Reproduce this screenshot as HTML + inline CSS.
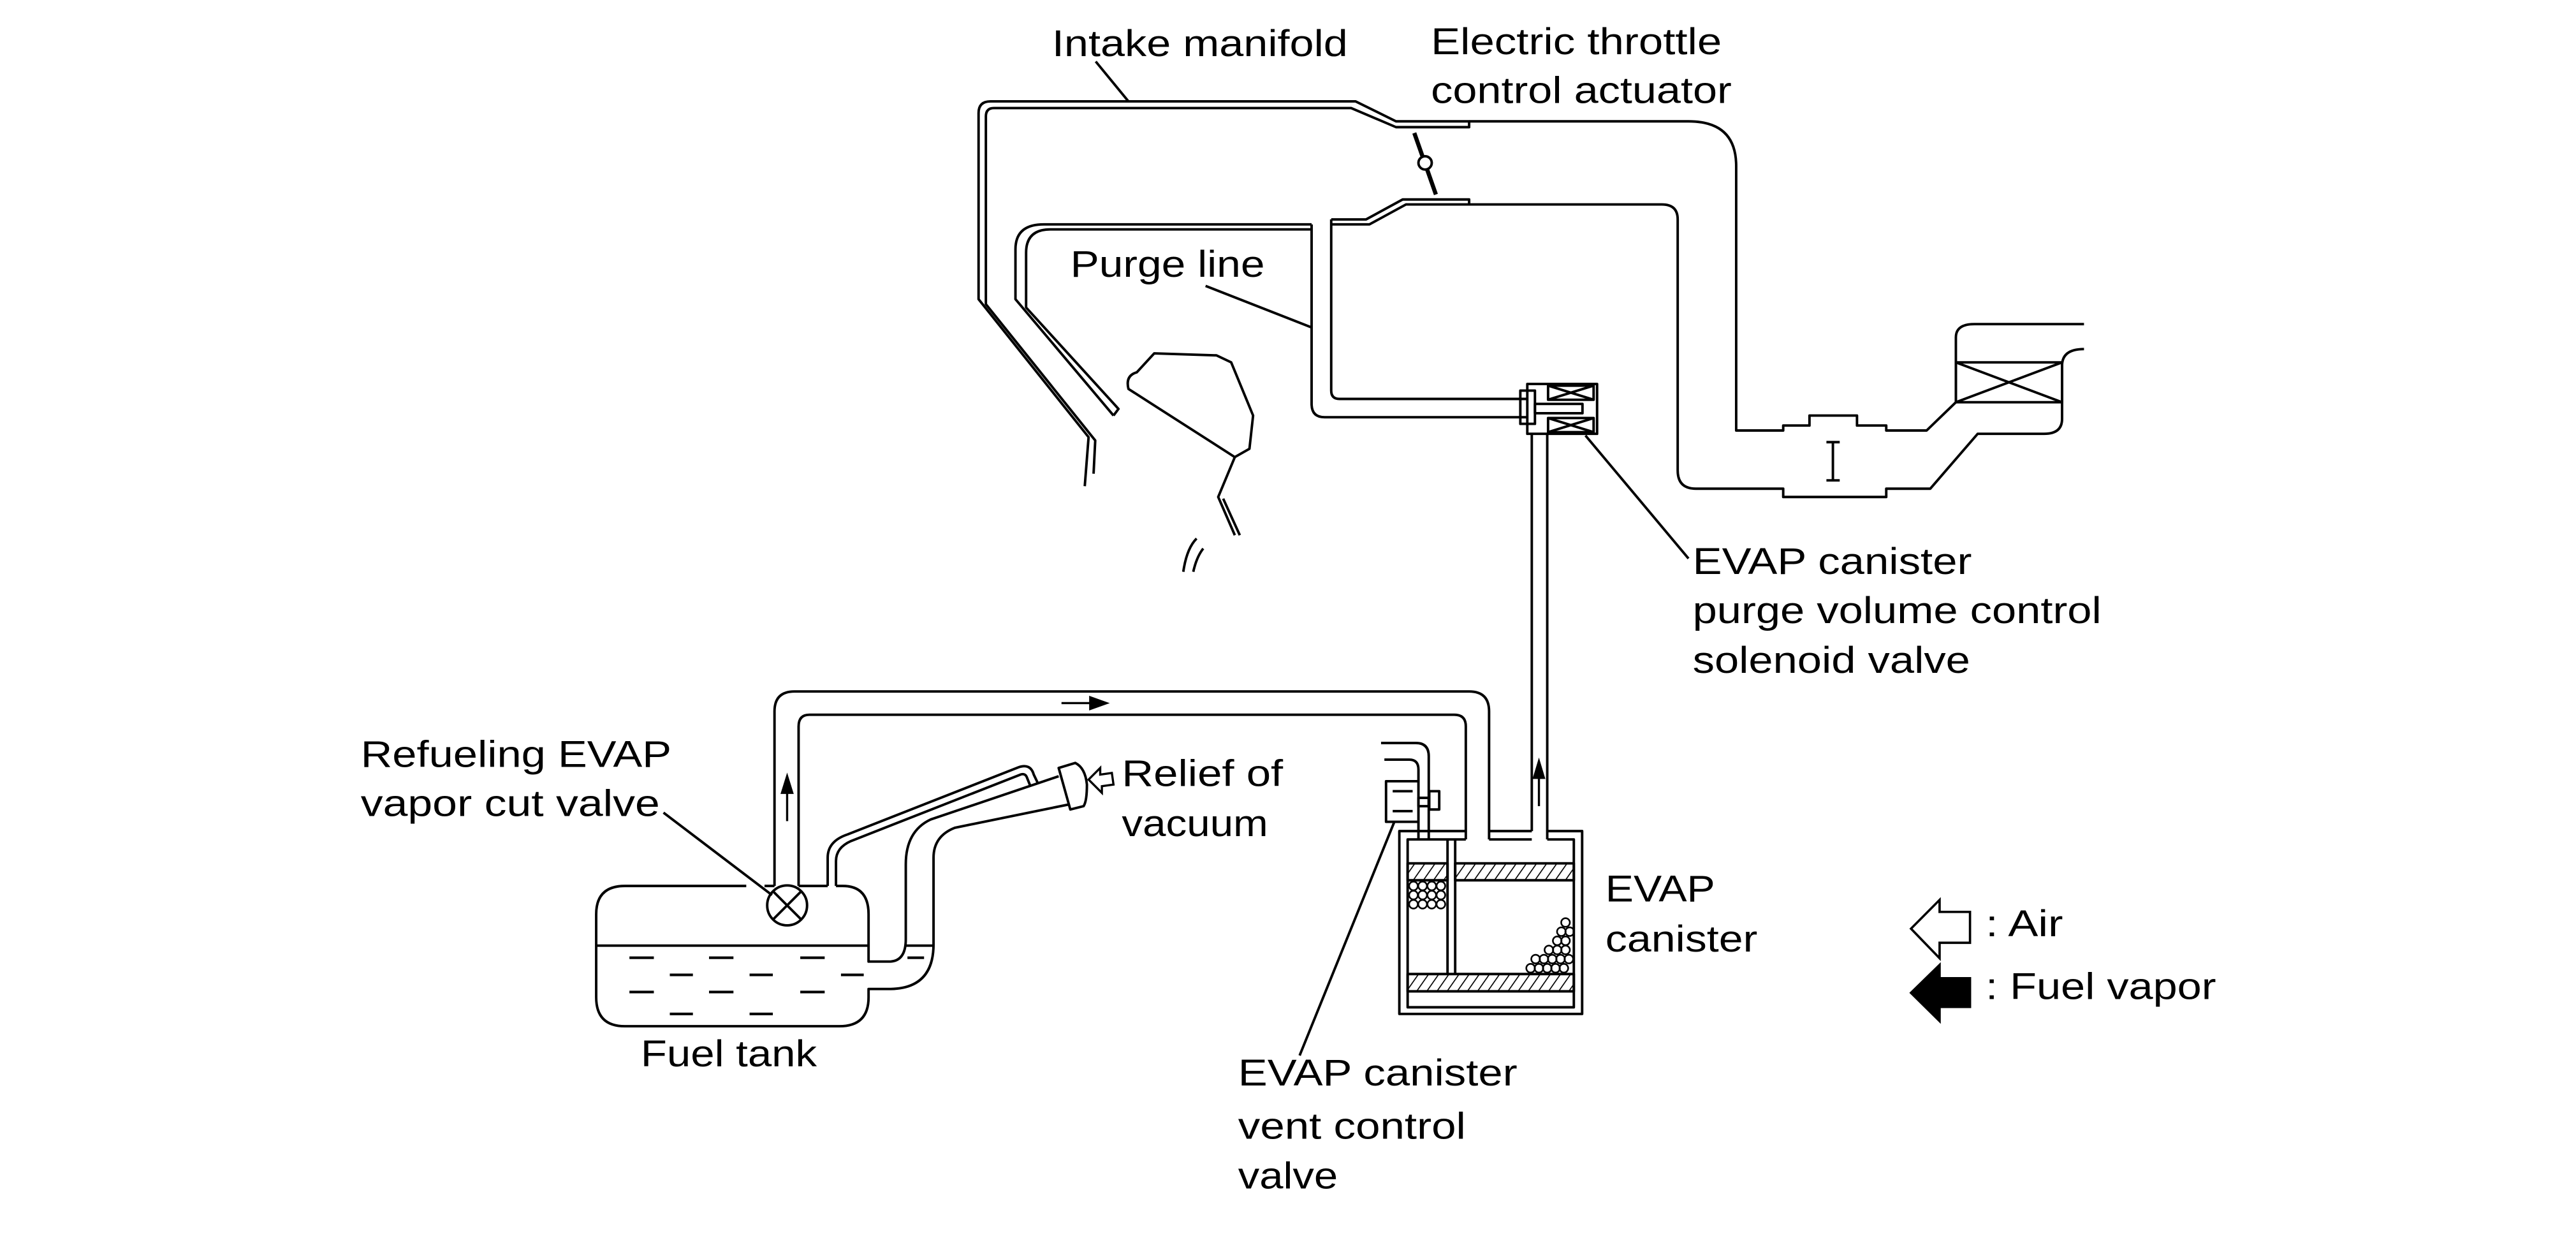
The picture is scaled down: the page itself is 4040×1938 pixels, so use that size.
<!DOCTYPE html>
<html><head><meta charset="utf-8"><style>
html,body{margin:0;padding:0;background:#fff;}
svg{display:block;}
text{font-family:"Liberation Sans",sans-serif;font-size:22.3px;fill:#000;}
</style></head><body>
<svg width="4040" height="1938" viewBox="0 0 1550 743.6" xmlns="http://www.w3.org/2000/svg">
<defs>
<pattern id="h" width="5" height="5" patternUnits="userSpaceOnUse" patternTransform="rotate(35)"><line x1="0" y1="0" x2="0" y2="5" stroke="#000" stroke-width="1.3"/></pattern>
</defs>
<g fill="none" stroke="#000" stroke-width="1.5" stroke-linejoin="round">
<!-- outer manifold -->
<path d="M652.7 292.5 L655 263 L588.8 180 L588.8 68 Q588.8 61 596 61 L815.7 61 L840 73 L884 73 L884 76.5 L840 76.5 L813 65 L598 65 Q593.2 65 593.2 70 L593.2 183 L659 265 L658 285"/>
<!-- upper duct -->
<path d="M884 73 L1016 73 Q1044.7 73 1044.7 100 L1044.7 259 L1073 259 L1073 256 L1088.8 256 L1088.8 250 L1117.4 250 L1117.4 256 L1135 256 L1135 259 L1159.3 259 L1176.9 242 L1176.9 203 Q1176.9 195 1188 195 L1254 195"/>
<path d="M1254 210 Q1240.8 210 1240.8 220 L1240.8 252 Q1240.8 261 1230 261 L1190 261 L1161.5 294 L1135 294 L1135 299 L1073 299 L1073 294 L1020.5 294 Q1009.5 294 1009.5 283 L1009.5 132 Q1009.5 123 1000 123 L846 123 L824 135 L801 135"/>
<path d="M884 123 L884 120 L844 120 L822 132 L801 132"/>
<rect x="1176.9" y="218" width="63.9" height="24"/><line x1="1176.9" y1="218" x2="1240.8" y2="242"/><line x1="1240.8" y1="218" x2="1176.9" y2="242"/>
<line x1="1102.9" y1="266" x2="1102.9" y2="289"/><line x1="1099" y1="266" x2="1107" y2="266"/><line x1="1099" y1="289" x2="1107" y2="289"/>
<!-- throttle -->
<line x1="851" y1="80" x2="864" y2="117" stroke-width="2.5"/><circle cx="857.5" cy="98" r="4" fill="#fff"/>
<!-- purge pipe -->
<path d="M919 251 L797 251 Q789.2 251 789.2 243 L789.2 135"/>
<path d="M801 132 L801 235 Q801 240 806 240 L919 240"/>
<!-- inner manifold pipe -->
<path d="M789.2 135 L628 135 Q611 135 611 150 L611 180 L670 250"/>
<path d="M789.2 138 L632 138 Q617.4 138 617.4 152 L617.4 185 L673 246 L670 250"/>
<!-- engine -->
<path d="M679 234 Q677 226 684 224 L694.5 212.6 L732 213.8 L740.8 218 L754 250 L751.8 270 L743 275 Z"/>
<path d="M743 275 L733 299 L743 322"/><path d="M736 300 L746 322"/>
<path d="M712 344 Q714 330 720 324"/><path d="M718 344 Q720 335 724 330"/>
<!-- solenoid -->
<rect x="919" y="231" width="42" height="30"/>
<rect x="931.5" y="232" width="27.4" height="8.5"/><line x1="931.5" y1="232" x2="958.9" y2="240.5"/><line x1="958.9" y1="232" x2="931.5" y2="240.5"/>
<rect x="931.5" y="251.5" width="27.4" height="8.5"/><line x1="931.5" y1="251.5" x2="958.9" y2="260"/><line x1="958.9" y1="251.5" x2="931.5" y2="260"/>
<rect x="923.6" y="243" width="28.6" height="5.6"/>
<rect x="914.8" y="235" width="8.8" height="20"/>
<line x1="954" y1="262" x2="1016" y2="336"/>
<!-- vertical pipes -->
<line x1="921.7" y1="261" x2="921.7" y2="500"/><line x1="931" y1="261" x2="931" y2="505"/>
<!-- top pipe -->
<path d="M466 533 L466 428 Q466 416 478 416 L884 416 Q896 416 896 428 L896 505"/>
<path d="M480.5 533 L480.5 437 Q480.5 430 487 430 L875 430 Q882 430 882 437 L882 505"/>
<!-- canister -->
<path d="M882 500 L842 500 L842 610 L952 610 L952 500 L931 500 M921.7 500 L896 500"/>
<path d="M882 505 L847 505 L847 606 L947 606 L947 505 L931 505 M921.7 505 L896 505"/>
<line x1="871" y1="505" x2="871" y2="586"/><line x1="875.6" y1="505" x2="875.6" y2="586"/>
<rect x="847" y="519.4" width="24" height="10.2" fill="url(#h)"/>
<rect x="875.6" y="519.4" width="71.4" height="10.2" fill="url(#h)"/>
<rect x="847" y="586" width="100" height="10.4" fill="url(#h)"/>
<g stroke-width="1">
<circle cx="850.5" cy="533" r="2.6"/><circle cx="856" cy="533" r="2.6"/><circle cx="861.5" cy="533" r="2.6"/><circle cx="867" cy="533" r="2.6"/>
<circle cx="850.5" cy="538.5" r="2.6"/><circle cx="856" cy="538.5" r="2.6"/><circle cx="861.5" cy="538.5" r="2.6"/><circle cx="867" cy="538.5" r="2.6"/>
<circle cx="850.5" cy="544" r="2.6"/><circle cx="856" cy="544" r="2.6"/><circle cx="861.5" cy="544" r="2.6"/><circle cx="867" cy="544" r="2.6"/>
<circle cx="942" cy="555" r="2.6"/>
<circle cx="939.5" cy="560.5" r="2.6"/><circle cx="944.5" cy="560.5" r="2.6"/>
<circle cx="937" cy="566" r="2.6"/><circle cx="942" cy="566" r="2.6"/>
<circle cx="932" cy="571.5" r="2.6"/><circle cx="937" cy="571.5" r="2.6"/><circle cx="942" cy="571.5" r="2.6"/>
<circle cx="924" cy="577" r="2.6"/><circle cx="929" cy="577" r="2.6"/><circle cx="934" cy="577" r="2.6"/><circle cx="939" cy="577" r="2.6"/><circle cx="944" cy="577" r="2.6"/>
<circle cx="921" cy="582.5" r="2.6"/><circle cx="926" cy="582.5" r="2.6"/><circle cx="931" cy="582.5" r="2.6"/><circle cx="936" cy="582.5" r="2.6"/><circle cx="941" cy="582.5" r="2.6"/>
</g>
<!-- vent valve -->
<path d="M831 447 L852 447 Q859.7 447 859.7 455 L859.7 505"/>
<path d="M833 457 L848 457 Q853.5 457 853.5 463 L853.5 470"/>
<line x1="853.5" y1="494.4" x2="853.5" y2="505"/>
<rect x="834" y="470" width="19.5" height="24.4"/>
<line x1="838" y1="476" x2="850" y2="476"/><line x1="838" y1="488" x2="850" y2="488"/>
<rect x="853.5" y="480" width="6.2" height="5"/>
<rect x="860" y="476" width="6" height="11"/>
<line x1="839" y1="494.4" x2="782" y2="635"/>
<!-- fuel tank -->
<path d="M449 533 L376 533 Q358.7 533 358.7 550 L358.7 600 Q358.7 617.4 376 617.4 L505 617.4 Q522.6 617.4 522.6 600 L522.6 595 L535 595 Q561.7 595 561.7 568 L561.7 516 Q561.7 503 574.5 498 L643 484"/>
<path d="M460 533 L466 533 M480.5 533 L498 533 M503 533 L507 533 Q522.6 533 522.6 550 L522.6 578.5 L535 578.5 Q545 578.5 545 565 L545 520 Q545 500 560 493 L637 467"/>
<path d="M498 533 L498 516 Q498 506 510 502 L612.6 461.7 Q620 459 622 466 L624.4 471"/>
<path d="M503 533 L503 518 Q503 510 512 506 L614 466 Q617 465 618 468 L620 473"/>
<path d="M637 462 L647 459 Q653 462 654 472 Q654 482 652 485 L644 487 Z" fill="#fff"/>
<line x1="358.7" y1="568.9" x2="522.6" y2="568.9"/><line x1="545" y1="568.9" x2="561.7" y2="568.9"/>
<circle cx="473.6" cy="544.7" r="12" fill="#fff"/><line x1="465.2" y1="536.3" x2="482" y2="553.1"/><line x1="482" y1="536.3" x2="465.2" y2="553.1"/>
<line x1="399.2" y1="488.9" x2="464.5" y2="538.5"/>
<g stroke-width="1.6">
<line x1="378.7" y1="576.2" x2="393.4" y2="576.2"/><line x1="426.6" y1="576.2" x2="441.3" y2="576.2"/><line x1="481.5" y1="576.2" x2="496.2" y2="576.2"/><line x1="546" y1="576.2" x2="556" y2="576.2"/>
<line x1="403" y1="586.5" x2="416.9" y2="586.5"/><line x1="451" y1="586.5" x2="465" y2="586.5"/><line x1="506" y1="586.5" x2="519.7" y2="586.5"/>
<line x1="378.7" y1="596.8" x2="393.4" y2="596.8"/><line x1="426.6" y1="596.8" x2="441.3" y2="596.8"/><line x1="481.5" y1="596.8" x2="496.2" y2="596.8"/>
<line x1="403" y1="610" x2="416.9" y2="610"/><line x1="451" y1="610" x2="465" y2="610"/>
</g>
<!-- leaders -->
<line x1="659.3" y1="37" x2="679" y2="61"/>
<line x1="725.4" y1="172" x2="789.2" y2="197"/>
</g>
<!-- small arrows -->
<g fill="#000" stroke="#000" stroke-width="1.3">
<line x1="473.6" y1="494" x2="473.6" y2="475"/><path d="M470.5 477 L473.6 467 L476.7 477 Z"/>
<line x1="638.7" y1="423" x2="657" y2="423"/><path d="M656 419.5 L665.8 423 L656 426.5 Z"/>
<line x1="926" y1="485" x2="926" y2="466"/><path d="M923 468 L926 458 L929 468 Z"/>
</g>
<path d="M655 469 L662 462 L662 466 L669 465 L670 472 L663 473 L663 477 Z" fill="#fff" stroke="#000" stroke-width="1.3"/>
<!-- legend -->
<path d="M1149.9 558.7 L1167.1 541.4 L1167.1 548.6 L1185.4 548.6 L1185.4 567.2 L1167.1 567.2 L1167.1 576.5 Z" fill="#fff" stroke="#000" stroke-width="1.4"/>
<path d="M1149.9 597.3 L1167.1 580.5 L1167.1 588.5 L1185.4 588.5 L1185.4 605.8 L1167.1 605.8 L1167.1 614.3 Z" fill="#000" stroke="#000" stroke-width="1.4"/>
<text x="633" y="33.8" textLength="178" lengthAdjust="spacingAndGlyphs">Intake manifold</text>
<text x="861" y="32.6" textLength="175" lengthAdjust="spacingAndGlyphs">Electric throttle</text>
<text x="861" y="62" textLength="181" lengthAdjust="spacingAndGlyphs">control actuator</text>
<text x="644" y="166.5" textLength="117" lengthAdjust="spacingAndGlyphs">Purge line</text>
<text x="1018.5" y="345.4" textLength="168" lengthAdjust="spacingAndGlyphs">EVAP canister</text>
<text x="1018.5" y="374.9" textLength="246" lengthAdjust="spacingAndGlyphs">purge volume control</text>
<text x="1018.5" y="404.8" textLength="167" lengthAdjust="spacingAndGlyphs">solenoid valve</text>
<text x="217" y="461.4" textLength="187" lengthAdjust="spacingAndGlyphs">Refueling EVAP</text>
<text x="217" y="491" textLength="180" lengthAdjust="spacingAndGlyphs">vapor cut valve</text>
<text x="675" y="473" textLength="97" lengthAdjust="spacingAndGlyphs">Relief of</text>
<text x="675" y="503" textLength="88" lengthAdjust="spacingAndGlyphs">vacuum</text>
<text x="966" y="542.4" textLength="66" lengthAdjust="spacingAndGlyphs">EVAP</text>
<text x="966" y="572.5" textLength="91.5" lengthAdjust="spacingAndGlyphs">canister</text>
<text x="385.5" y="641.5" textLength="106" lengthAdjust="spacingAndGlyphs">Fuel tank</text>
<text x="745" y="653" textLength="168" lengthAdjust="spacingAndGlyphs">EVAP canister</text>
<text x="745" y="685" textLength="137" lengthAdjust="spacingAndGlyphs">vent control</text>
<text x="745" y="715" textLength="60" lengthAdjust="spacingAndGlyphs">valve</text>
<text x="1194.8" y="563.2" textLength="46.6" lengthAdjust="spacingAndGlyphs">: Air</text>
<text x="1194.8" y="601" textLength="138.7" lengthAdjust="spacingAndGlyphs">: Fuel vapor</text>
</svg>
</body></html>
